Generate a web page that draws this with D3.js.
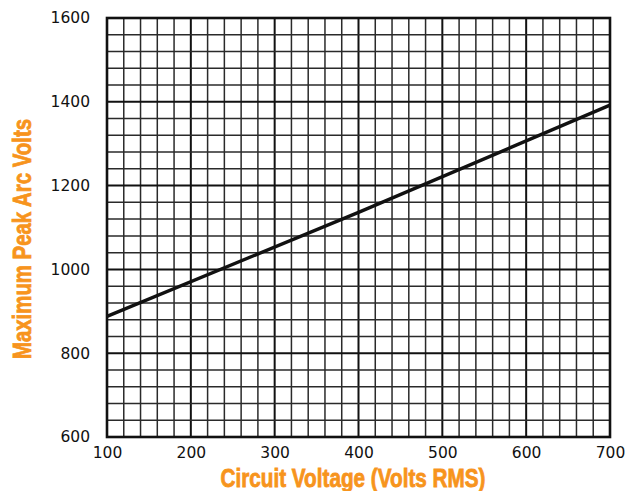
<!DOCTYPE html>
<html>
<head>
<meta charset="utf-8">
<script src="https://cdn.jsdelivr.net/npm/d3@7"></script>
<style>
  body { margin: 0; background: #fff; }
  svg { display: block; }
</style>
</head>
<body>
<svg id="chart" width="628" height="491"></svg>
<script>
// Data
const circuitVoltage = [100, 400, 700];
const peakArcVolts = [888, 1136, 1392];
const xTicks = [100, 200, 300, 400, 500, 600, 700];
const yTicks = [600, 800, 1000, 1200, 1400, 1600];
const xTitle = "Circuit Voltage (Volts RMS)";
const yTitle = "Maximum Peak Arc Volts";

const svg = d3.select("#chart");
const m = { left: 107, right: 610, top: 18, bottom: 437 };
const x = d3.scaleLinear().domain([100, 700]).range([m.left, m.right]);
const y = d3.scaleLinear().domain([600, 1600]).range([m.bottom, m.top]);

const orange = "#f7941d";

// grid
const g = svg.append("g");
const xMinor = d3.range(100, 701, 20);
const yMinor = d3.range(600, 1601, 40);
g.selectAll(".vx").data(xMinor).join("line")
  .attr("x1", d => x(d)).attr("x2", d => x(d))
  .attr("y1", m.top).attr("y2", m.bottom)
  .attr("stroke", d => d % 100 === 0 ? "#111" : "#2a2a2a")
  .attr("stroke-width", d => d % 100 === 0 ? 2.0 : 1.5);
g.selectAll(".hy").data(yMinor).join("line")
  .attr("y1", d => y(d)).attr("y2", d => y(d))
  .attr("x1", m.left).attr("x2", m.right)
  .attr("stroke", d => d % 200 === 0 ? "#111" : "#2a2a2a")
  .attr("stroke-width", d => d % 200 === 0 ? 2.0 : 1.5);

// border
svg.append("rect")
  .attr("x", m.left).attr("y", m.top)
  .attr("width", m.right - m.left).attr("height", m.bottom - m.top)
  .attr("fill", "none").attr("stroke", "#111").attr("stroke-width", 2.6);

// data line
const pts = circuitVoltage.map((v, i) => [v, peakArcVolts[i]]);
svg.append("path")
  .datum(pts)
  .attr("d", d3.line().x(d => x(d[0])).y(d => y(d[1])))
  .attr("fill", "none").attr("stroke", "#111").attr("stroke-width", 3.4);

// axes (labels only)
const xAxis = svg.append("g")
  .attr("transform", `translate(0,${m.bottom})`)
  .call(d3.axisBottom(x).tickValues(xTicks).tickSize(0).tickPadding(10).tickFormat(d3.format("d")));
const yAxis = svg.append("g")
  .attr("transform", `translate(${m.left},0)`)
  .call(d3.axisLeft(y).tickValues(yTicks).tickSize(0).tickPadding(17).tickFormat(d3.format("d")));
[xAxis, yAxis].forEach(a => {
  a.select(".domain").remove();
  a.selectAll("text")
    .attr("font-family", "DejaVu Sans, sans-serif")
    .attr("font-size", 15.5)
    .attr("fill", "#111");
});

// titles
svg.append("text")
  .attr("x", 353).attr("y", 487)
  .attr("text-anchor", "middle")
  .attr("font-family", "Liberation Sans Narrow, Arial Narrow, sans-serif")
  .attr("font-weight", "bold")
  .attr("font-size", 25)
  .attr("stroke", orange).attr("stroke-width", 0.8)
  .attr("textLength", 265).attr("lengthAdjust", "spacingAndGlyphs")
  .attr("fill", orange)
  .text(xTitle);

svg.append("text")
  .attr("transform", "translate(31,239) rotate(-90)")
  .attr("text-anchor", "middle")
  .attr("font-family", "Liberation Sans Narrow, Arial Narrow, sans-serif")
  .attr("font-weight", "bold")
  .attr("font-size", 25)
  .attr("stroke", orange).attr("stroke-width", 0.8)
  .attr("textLength", 240).attr("lengthAdjust", "spacingAndGlyphs")
  .attr("fill", orange)
  .text(yTitle);
</script>
</body>
</html>
